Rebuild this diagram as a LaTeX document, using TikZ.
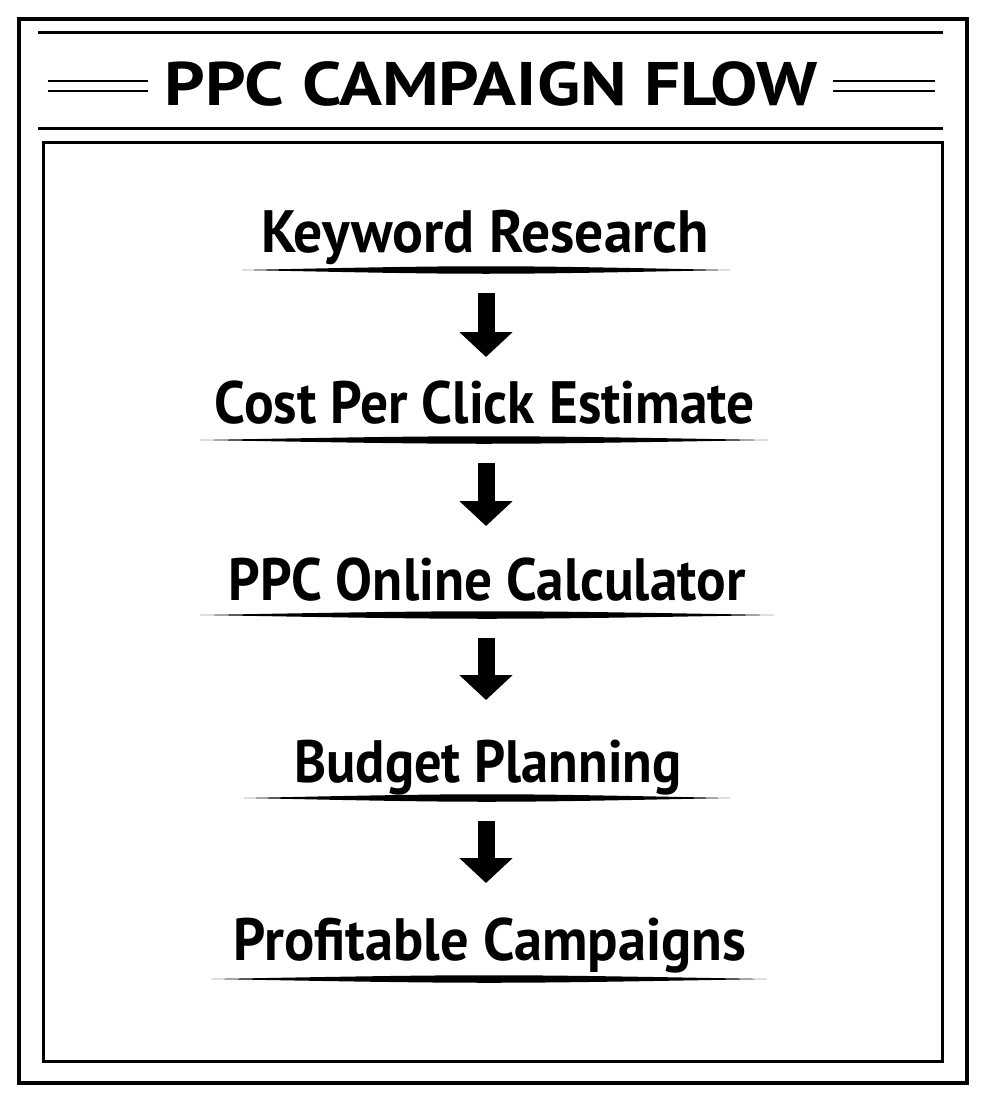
\documentclass[tikz,border=0pt]{standalone}
\usepackage{fontspec}
\setmainfont{PT Sans}
\usepackage{graphicx}
\usetikzlibrary{arrows.meta}
\newlength\pxu
\setlength\pxu{0.2mm}
\newcommand{\fitw}[2]{\resizebox{#1\pxu}{\height}{#2}}
\newcommand{\brushline}[3]{\fill (#1-#2,#3) .. controls (#1,#3-5) .. (#1+#2,#3) .. controls (#1,#3+5) .. cycle;}
\tikzset{
  heading/.style={ inner sep=0pt, anchor=base, font=\fontsize{35}{42}\selectfont\bfseries }
}
\tikzset{
  phase/.style={ inner sep=0pt, anchor=base, font=\fontsize{34}{40}\selectfont\bfseries }
}
\tikzset{
  blockarr/.style={ draw, line width=3.4mm, -{Triangle[length=5mm, width=10.4mm]}, shorten <=4.6mm }
}
\begin{document}
\begin{tikzpicture}[x=0.2mm, y=-0.2mm]
        \useasboundingbox (0,0) rectangle (986,1097);
        % frames
        \draw[line width=0.8mm] (19,19) rectangle (967,1083);
        \draw[line width=0.6mm] (43,142) rectangle (942,1061);
        \draw[line width=0.6mm] (38,33) -- (943,33);
        \draw[line width=0.6mm] (38,128) -- (943,128);
        % title
        \node[heading] (title) at (491,106) {\fitw{653}{PPC CAMPAIGN FLOW}};
        \draw[line width=0.5mm] (48,81) -- (148,81) (48,91) -- (148,91);
        \draw[line width=0.5mm] (833,81) -- (935,81) (833,91) -- (935,91);
        % steps
        \node[phase] (kw) at (485,252) {\fitw{448}{Keyword Research}};
        \node[phase] (cpc) at (485,423) {\fitw{540}{Cost Per Click Estimate}};
        \node[phase] (calc) at (487,600) {\fitw{517}{PPC Online Calculator}};
        \node[phase] (budget) at (488,782) {\fitw{387}{Budget Planning}};
        \node[phase] (profit) at (490,960) {\fitw{512}{Profitable Campaigns}};
        \coordinate (kw-u) at (486,270);
        \coordinate (cpc-u) at (486,440);
        \coordinate (calc-u) at (486,615);
        \coordinate (budget-u) at (486,798);
        \coordinate (profit-u) at (486,979);
        \brushline{486}{244}{270}
        \brushline{484}{284}{440}
        \brushline{487}{287}{615}
        \brushline{487}{243}{798}
        \brushline{489}{278}{979}
        % arrows
        \draw[blockarr, shorten >=16.6mm] (kw-u) -- (cpc-u);
        \draw[blockarr, shorten >=17.8mm] (cpc-u) -- (calc-u);
        \draw[blockarr, shorten >=19.6mm] (calc-u) -- (budget-u);
        \draw[blockarr, shorten >=19.2mm] (budget-u) -- (profit-u);
\end{tikzpicture}
\end{document}
